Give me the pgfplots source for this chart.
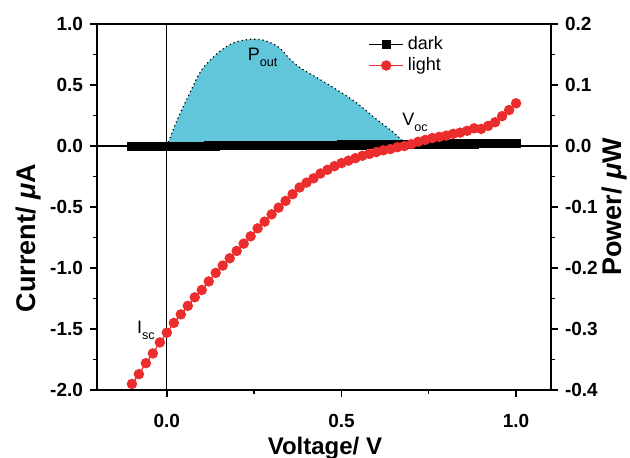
\documentclass[border=0pt]{standalone}
\usepackage{fontspec}
\setmainfont{Liberation Sans}
\usepackage{pgfplots}
\pgfplotsset{compat=1.18}
\definecolor{pfill}{RGB}{98,198,218}
\definecolor{lred}{RGB}{235,45,45}

\pgfplotsset{
  common/.style={
    width=227pt, height=183pt, scale only axis,
    xmin=-0.2, xmax=1.1,
    tick align=outside,
    major tick length=3.5pt, minor tick length=2pt,
    minor tick num=1,
    axis line style={line width=0.7pt},
    every tick/.style={black, line width=0.7pt},
    /pgf/number format/assume math mode=true,
    /pgf/number format/fixed, /pgf/number format/fixed zerofill,
    /pgf/number format/precision=1,
    tick label style={font=\fontsize{9.5}{11}\selectfont\bfseries},
    label style={font=\fontsize{12}{14}\selectfont\bfseries},
    ylabel style={font=\fontsize{13.5}{15}\selectfont\bfseries},
  }
}

\begin{document}
\begin{tikzpicture}
\path[use as bounding box] (-48.5pt,-33.5pt) rectangle (266.5pt,195pt);

% power axis (right)
\begin{axis}[common,
  axis x line=none, axis y line*=right,
  ymin=-0.4, ymax=0.2,
  ytick={-0.4,-0.3,-0.2,-0.1,0,0.1,0.2},
  ylabel={Power/ \textit{μ}W},
  ylabel style={at={(axis description cs:1.139,0.5)}, anchor=center},
]
\addplot[fill=pfill, draw=black, line width=0.6pt, dash pattern=on 0.6pt off 1.5pt, smooth, tension=0.5]
  coordinates {(0,0) (0.03,0.043) (0.07,0.092) (0.10,0.125) (0.145,0.152) (0.19,0.169)
    (0.24,0.175) (0.28,0.173) (0.32,0.162) (0.355,0.141) (0.385,0.127) (0.43,0.112)
    (0.49,0.091) (0.545,0.070) (0.60,0.044) (0.645,0.024) (0.678,0.007) (0.69,0)} -- cycle;
\end{axis}

% current axis (left)
\begin{axis}[common,
  xtick pos=left, ytick pos=left,
  ymin=-2, ymax=1,
  xtick={0,0.5,1},
  ytick={-2,-1.5,-1,-0.5,0,0.5,1},
  xticklabel style={yshift=-5pt},
  xlabel={Voltage/ V},
  ylabel={Current/ \textit{μ}A},
  xlabel style={at={(axis description cs:0.502,-0.16)}, anchor=center},
  ylabel style={at={(axis description cs:-0.151,0.415)}, anchor=center},
  legend style={at={(0.584,0.989)}, anchor=north west, draw=none, fill=none,
    font=\fontsize{9}{11}\selectfont, row sep=-1.5pt},
  legend cell align=left,
]
\draw[black, line width=0.6pt] (axis cs:0,-2) -- (axis cs:0,1);
\draw[black, line width=0.6pt] (axis cs:-0.2,0) -- (axis cs:1.1,0);

\addplot[black, mark=square*, mark size=2pt, line width=0.6pt] coordinates {
(-0.10,-0.005) (-0.08,-0.005) (-0.06,-0.004) (-0.04,-0.004) (-0.02,-0.003) (0.00,-0.003)
(0.02,-0.002) (0.04,-0.002) (0.06,-0.001) (0.08,-0.001) (0.10,-0.001) (0.12,0.000)
(0.14,0.000) (0.16,0.001) (0.18,0.001) (0.20,0.001) (0.22,0.002) (0.24,0.002)
(0.26,0.003) (0.28,0.003) (0.30,0.003) (0.32,0.004) (0.34,0.004) (0.36,0.005)
(0.38,0.005) (0.40,0.005) (0.42,0.006) (0.44,0.006) (0.46,0.007) (0.48,0.007)
(0.50,0.008) (0.52,0.008) (0.54,0.009) (0.56,0.009) (0.58,0.010) (0.60,0.010)
(0.62,0.011) (0.64,0.011) (0.66,0.012) (0.68,0.012) (0.70,0.013) (0.72,0.013)
(0.74,0.014) (0.76,0.014) (0.78,0.015) (0.80,0.015) (0.82,0.016) (0.84,0.016)
(0.86,0.017) (0.88,0.017) (0.90,0.018) (0.92,0.018) (0.94,0.018) (0.96,0.019)
(0.98,0.019) (1.00,0.020)};

\addplot[lred, mark=*, mark size=2.3pt, line width=0.6pt] coordinates {
(-0.10,-1.95) (-0.08,-1.87) (-0.06,-1.78) (-0.04,-1.70) (-0.02,-1.61) (0.00,-1.53)
(0.02,-1.45) (0.04,-1.38) (0.06,-1.31) (0.08,-1.24) (0.10,-1.18) (0.12,-1.11)
(0.14,-1.04) (0.16,-0.98) (0.18,-0.92) (0.20,-0.86) (0.22,-0.80) (0.24,-0.74)
(0.26,-0.675) (0.28,-0.62) (0.30,-0.56) (0.32,-0.505) (0.34,-0.45) (0.36,-0.395)
(0.38,-0.34) (0.40,-0.30) (0.42,-0.265) (0.44,-0.225) (0.46,-0.195) (0.48,-0.165)
(0.50,-0.14) (0.52,-0.12) (0.54,-0.10) (0.56,-0.08) (0.58,-0.065) (0.60,-0.05)
(0.62,-0.035) (0.64,-0.025) (0.66,-0.01) (0.68,0.00) (0.70,0.015) (0.72,0.035)
(0.74,0.05) (0.76,0.065) (0.78,0.075) (0.80,0.085) (0.82,0.10) (0.84,0.11)
(0.86,0.125) (0.88,0.145) (0.90,0.14) (0.92,0.165) (0.94,0.195) (0.96,0.245)
(0.98,0.295) (1.00,0.35)};
\legend{dark, light}

\node[anchor=base west, inner sep=0pt, font=\fontsize{9}{11}\selectfont]
  at (axis cs:0.2306,0.705) {P\raisebox{-3.3pt}{\fontsize{6.3}{7}\selectfont out}};
\node[anchor=base west, inner sep=0pt, font=\fontsize{9}{11}\selectfont]
  at (axis cs:0.673,0.172) {V\raisebox{-3.3pt}{\fontsize{6.3}{7}\selectfont oc}};
\node[anchor=base west, inner sep=0pt, font=\fontsize{9}{11}\selectfont]
  at (axis cs:-0.0866,-1.533) {I\raisebox{-3.3pt}{\fontsize{6.3}{7}\selectfont sc}};
\end{axis}
\end{tikzpicture}
\end{document}
